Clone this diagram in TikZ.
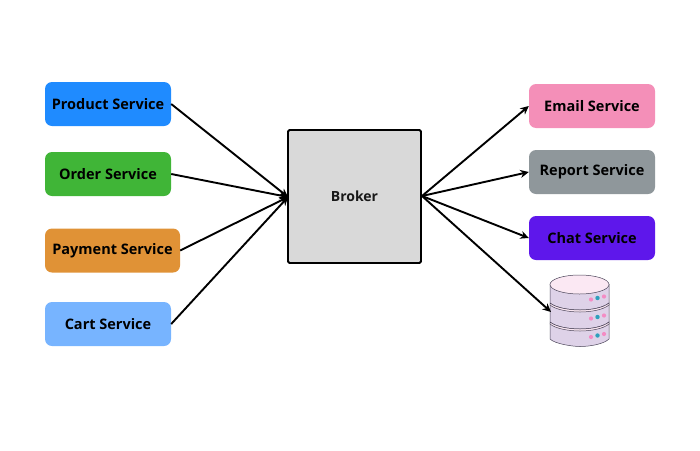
\documentclass[tikz,border=0pt]{standalone}
\usepackage{fontspec}
\setmainfont{Open Sans}
\usetikzlibrary{arrows.meta}
\definecolor{cprod}{HTML}{1F8BFF}
\definecolor{corder}{HTML}{40B537}
\definecolor{cpay}{HTML}{E09236}
\definecolor{ccart}{HTML}{77B4FF}
\definecolor{cmail}{HTML}{F48FB8}
\definecolor{crep}{HTML}{8F979B}
\definecolor{cchat}{HTML}{5E17EB}
\definecolor{cbrok}{HTML}{D9D9D9}
\definecolor{dbside}{HTML}{DED2E8}
\definecolor{dbtop}{HTML}{FBE8F3}
\definecolor{dbline}{HTML}{4A4458}
\definecolor{dbpink}{HTML}{F48CC4}
\definecolor{dbteal}{HTML}{2F9FBC}
\tikzset{
  svc/.style={draw=none,rounded corners=7pt,minimum width=126pt,minimum height=44pt,inner sep=0pt,font=\fontsize{14.5pt}{16pt}\selectfont\bfseries,text=black},
  broker/.style={draw=black,line width=1.9pt,fill=cbrok,rounded corners=1.5pt,minimum width=133pt,minimum height=133pt,inner sep=0pt,font=\fontsize{14pt}{16pt}\selectfont\bfseries,text=black!90},
  link/.style={draw=black,line width=1.9pt,-{Stealth[length=8.5pt,width=8pt]}},
  dbbody/.style={fill=dbside,draw=dbline,line width=0.5pt},
  dbcap/.style={fill=dbtop,draw=dbline,line width=0.5pt}
}
\newcommand{\dbdots}[1]{%
  \fill[dbpink] (591,#1+1.5) circle (2.1pt);
  \fill[dbteal] (597.5,#1) circle (2.2pt);
  \fill[dbpink] (604,#1-1.5) circle (2.1pt);}
\begin{document}
\begin{tikzpicture}[x=1pt,y=-1pt]
\useasboundingbox (0,0) rectangle (700,450);
\node[svc,fill=cprod]  (prod)  at (108,104) {Product Service};
\node[svc,fill=corder] (order) at (108,174) {Order Service};
\node[svc,fill=cpay,minimum width=135pt]   (pay)   at (112.5,250.5) {Payment Service};
\node[svc,fill=ccart]  (cart)  at (108,324) {Cart Service};
\node[svc,fill=cmail]  (mail)  at (592,106) {Email Service};
\node[svc,fill=crep]   (rep)   at (592,172) {Report Service};
\node[svc,fill=cchat]  (chat)  at (592,238) {Chat Service};
\node[broker] (brok) at (354.5,196.5) {Broker};
% database
\path[dbbody] (550,323) -- (550,339) .. controls (555,344) and (573,346.500) .. (580,346.500) .. controls (590,346.500) and (604,344) .. (609,339) -- (609,323) -- cycle;
\path[dbbody] (550,304) -- (550,322) .. controls (556,327) and (570,329) .. (580,329) .. controls (590,329) and (603,327) .. (609,322) -- (609,304) -- cycle;
\path[dbcap] (550,322) .. controls (556,327) and (570,329) .. (580,329) .. controls (590,329) and (603,327) .. (609,322) -- (609,324) .. controls (603,329) and (590,331) .. (580,331) .. controls (570,331) and (556,329) .. (550,324) -- cycle;
\path[dbbody] (550,284) -- (550,303) .. controls (556,308) and (570,310) .. (580,310) .. controls (590,310) and (603,308) .. (609,303) -- (609,284) -- cycle;
\path[dbcap] (550,303) .. controls (556,308) and (570,310) .. (580,310) .. controls (590,310) and (603,308) .. (609,303) -- (609,305) .. controls (603,310) and (590,312) .. (580,312) .. controls (570,312) and (556,310) .. (550,305) -- cycle;
\path[dbcap] (579.500,284.500) ellipse [x radius=29.500pt,y radius=9.500pt];
\dbdots{298}
\dbdots{317}
\dbdots{335.500}
\coordinate (dbin) at (551,312);
% connectors
\coordinate (hubL) at (288,197);
\coordinate (hubR) at (422,196);
\draw[link] (prod.east)  -- (hubL);
\draw[link] (order.east) -- (hubL);
\draw[link] (pay.east)   -- (hubL);
\draw[link] (cart.east)  -- (hubL);
\draw[link] (hubR) -- (mail.west);
\draw[link] (hubR) -- (rep.west);
\draw[link] (hubR) -- (chat.west);
\draw[link] (hubR) -- (dbin);
\end{tikzpicture}
\end{document}
